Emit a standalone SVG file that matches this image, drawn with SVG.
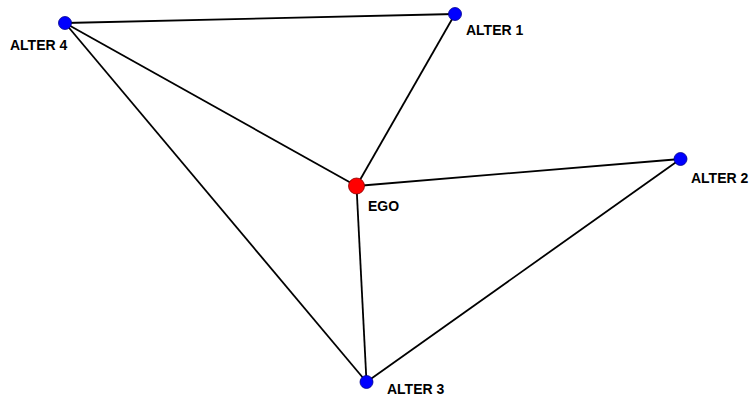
<svg xmlns="http://www.w3.org/2000/svg" width="755" height="396" viewBox="0 0 755 396">
<style>
.edge{stroke:#000;stroke-width:1.8;fill:none}
.alter{fill:#0000ff;stroke:#00008b;stroke-width:0.8}
.ego{fill:#ff0000;stroke:#8b0000;stroke-width:0.8}
.lbl{font-family:"Liberation Sans",Arial,sans-serif;font-weight:bold;font-size:14px;fill:#000}
</style>
<rect width="755" height="396" fill="#fff"/>
<g id="edges">
<line class="edge" x1="65" y1="23" x2="455" y2="14"/>
<line class="edge" x1="65" y1="23" x2="356.5" y2="186"/>
<line class="edge" x1="65" y1="23" x2="366.5" y2="382"/>
<line class="edge" x1="455" y1="14" x2="356.5" y2="186"/>
<line class="edge" x1="356.5" y1="186" x2="680.5" y2="159"/>
<line class="edge" x1="356.5" y1="186" x2="366.5" y2="382"/>
<line class="edge" x1="680.5" y1="159" x2="366.5" y2="382"/>
</g>
<g id="alter4"><circle class="alter" cx="65" cy="23" r="6.5"/><text class="lbl" x="10" y="50">ALTER 4</text></g>
<g id="alter1"><circle class="alter" cx="455" cy="14" r="6.5"/><text class="lbl" x="466" y="35">ALTER 1</text></g>
<g id="ego"><circle class="ego" cx="356.5" cy="186" r="8"/><text class="lbl" x="368" y="211">EGO</text></g>
<g id="alter2"><circle class="alter" cx="680.5" cy="159" r="6.5"/><text class="lbl" x="691" y="183">ALTER 2</text></g>
<g id="alter3"><circle class="alter" cx="366.5" cy="382" r="6.5"/><text class="lbl" x="387" y="394">ALTER 3</text></g>
</svg>
